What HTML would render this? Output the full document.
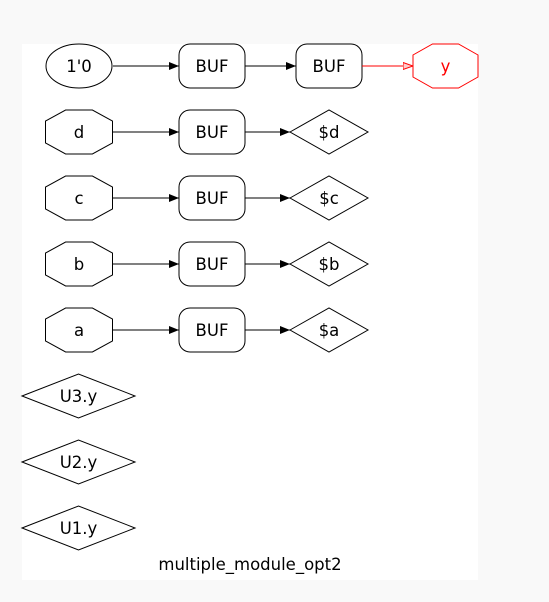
<!DOCTYPE html>
<html><head><meta charset="utf-8"><style>
html,body{margin:0;padding:0;background:#f9f9f9;}
svg{display:block;}
text{font-family:"DejaVu Sans","Liberation Sans",sans-serif;font-size:16.5px;}
</style></head><body>
<svg width="549" height="602" viewBox="0 0 549 602">
<defs>
<marker id="ah" markerWidth="10" markerHeight="8" refX="10" refY="4" orient="auto" markerUnits="userSpaceOnUse"><path d="M0,0 L10,4 L0,8 Z" fill="#000"/></marker>
<marker id="ahr" markerWidth="10" markerHeight="8" refX="10" refY="4" orient="auto" markerUnits="userSpaceOnUse"><path d="M0,0.5 L10,4 L0,7.5 Z" fill="#fcc" stroke="red" stroke-width="1"/></marker>
</defs>
<rect x="22" y="44" width="456" height="536" fill="#fff"/>
<g id="g" fill="none" stroke="#000" stroke-width="1"></g>
<text x="250" y="570" text-anchor="middle">multiple_module_opt2</text>
</svg>
<script>
const rows = [66,132,198,264,330];
const inputs = ['1\'0','d','c','b','a'];
const outs = ['y','$d','$c','$b','$a'];
const extras = ['U3.y','U2.y','U1.y'];
const extraY = [396,462,528];
const g = document.getElementById('g');
const NS='http://www.w3.org/2000/svg';
function el(tag, attrs, parent){const e=document.createElementNS(NS,tag);for(const k in attrs)e.setAttribute(k,attrs[k]);(parent||g).appendChild(e);return e;}
function txt(x,y,s,color){const t=el('text',{x:x,y:y+6,'text-anchor':'middle',fill:color||'#000',stroke:'none'});t.textContent=s;return t;}
function oct(cx,cy,w,h,color){const x0=cx-w/2,x1=cx+w/2,y0=cy-h/2,y1=cy+h/2;const a=w*0.3,b=h*0.25;
return el('polygon',{points:[[x0+a,y0],[x1-a,y0],[x1,y0+b],[x1,y1-b],[x1-a,y1],[x0+a,y1],[x0,y1-b],[x0,y0+b]].map(p=>p.join(',')).join(' '),stroke:color||'#000'});}
function dia(cx,cy,w,h){return el('polygon',{points:`${cx-w/2},${cy} ${cx},${cy-h/2} ${cx+w/2},${cy} ${cx},${cy+h/2}`});}
rows.forEach((y,i)=>{
  let n;
  if(i===0){n=el('ellipse',{cx:79,cy:y,rx:33,ry:22});}
  else{n=oct(79,y,67,44);}
  
  
  txt(79,y,inputs[i]);
  const b=el('rect',{x:179,y:y-22,width:66,height:44,rx:11,ry:11});
  
  
  txt(212,y,'BUF');
  el('line',{x1:113,y1:y,x2:179,y2:y,'marker-end':'url(#ah)'});
  if(i===0){
    const b2=el('rect',{x:296,y:y-22,width:66,height:44,rx:11,ry:11});
    
    
    txt(329,y,'BUF');
    el('line',{x1:245,y1:y,x2:296,y2:y,'marker-end':'url(#ah)'});
    el('line',{x1:362,y1:y,x2:413,y2:y,stroke:'red','marker-end':'url(#ahr)'});
    const o=oct(445.5,y,65,44,'red');
    
    
    txt(445.5,y,'y','red');
  } else {
    el('line',{x1:245,y1:y,x2:290,y2:y,'marker-end':'url(#ah)'});
    const d=dia(329,y,78,44);
    
    
    txt(329,y,outs[i]);
  }
});
extras.forEach((s,i)=>{
  const d=dia(78.5,extraY[i],113,44);
  
  
  txt(78.5,extraY[i],s);
});
</script>
</body></html>
